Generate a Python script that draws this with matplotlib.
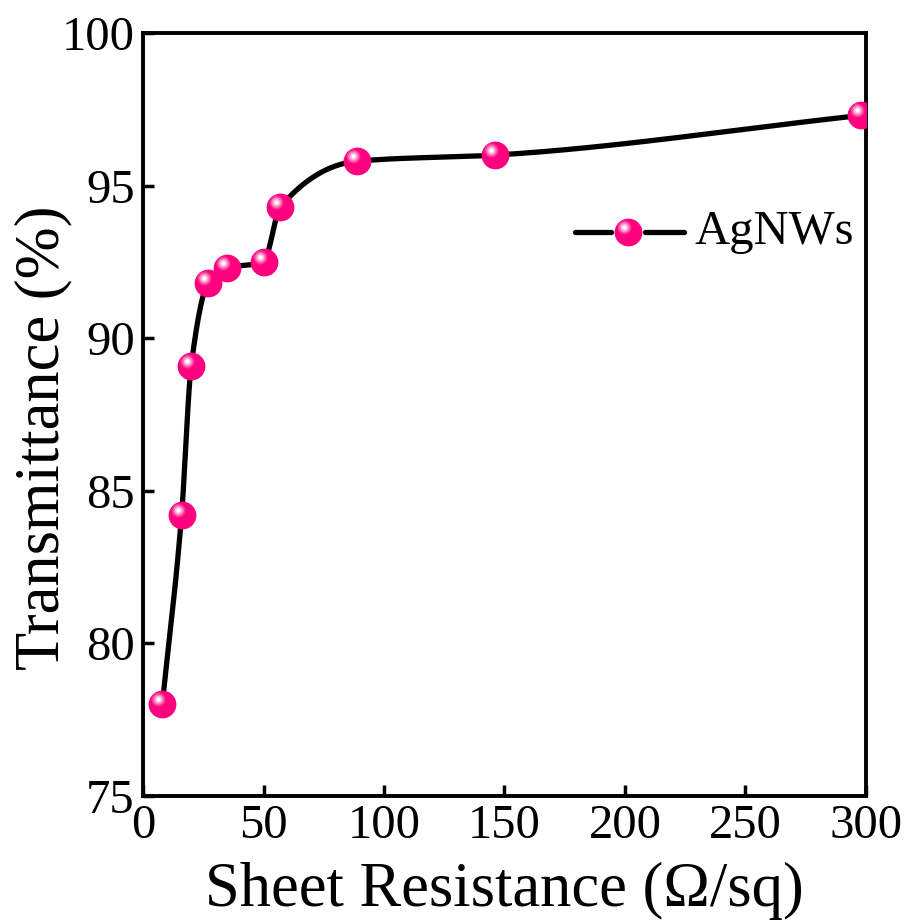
import numpy as np
import matplotlib
matplotlib.use('Agg')
import matplotlib.pyplot as plt
import matplotlib.transforms as mtransforms

# sheet resistance (ohm/sq) vs transmittance (%) of AgNW films
sheet_res = [8, 16, 20, 27, 35, 50, 57, 89, 146, 298]
transmit = [78.0, 84.2, 89.1, 91.8, 92.3, 92.5, 94.3, 95.8, 96.0, 97.3]
xticks = [0, 50, 100, 150, 200, 250, 300]
yticks = [75, 80, 85, 90, 95, 100]
series_name = 'AgNWs'

PINK = '#ff007f'


def pchip(x, y, xs):
    # monotone cubic hermite (Fritsch-Carlson), used only to draw the smooth line
    x = np.asarray(x, float)
    y = np.asarray(y, float)
    h = np.diff(x)
    d = np.diff(y) / h
    m = np.zeros_like(y)
    for k in range(1, len(x) - 1):
        if d[k - 1] * d[k] > 0:
            w1 = 2 * h[k] + h[k - 1]
            w2 = h[k] + 2 * h[k - 1]
            m[k] = (w1 + w2) / (w1 / d[k - 1] + w2 / d[k])
    m[0] = d[0]
    m[-1] = d[-1]
    idx = np.clip(np.searchsorted(x, xs) - 1, 0, len(x) - 2)
    t = (xs - x[idx]) / h[idx]
    h00 = 2 * t**3 - 3 * t**2 + 1
    h10 = t**3 - 2 * t**2 + t
    h01 = -2 * t**3 + 3 * t**2
    h11 = t**3 - t**2
    return h00 * y[idx] + h10 * h[idx] * m[idx] + h01 * y[idx + 1] + h11 * h[idx] * m[idx + 1]


def ball(ax, xv, yv, trans, shift, clip=True):
    # pink sphere with a glossy highlight up-left of the centre
    ax.plot(xv, yv, 'o', ms=20, mfc=PINK, mew=0, zorder=3, transform=trans,
            clip_on=clip)
    layers = [(10, '#ff3399'), (7.5, '#ff80bf'), (5, '#ffc2e0'), (2.8, 'white')]
    for ms, c in layers:
        ax.plot(xv, yv, 'o', ms=ms, mfc=c, mew=0, zorder=4,
                transform=trans + shift, clip_on=clip)


plt.rcParams['font.family'] = 'Liberation Serif'

fig = plt.figure(figsize=(9.08, 9.22), dpi=100)
ax = fig.add_axes([0.1575, 0.1367, 0.7962, 0.8275])

xs = np.linspace(sheet_res[0], sheet_res[-1], 600)
ax.plot(xs, pchip(sheet_res, transmit, xs), color='black', lw=3.8, zorder=2,
        solid_capstyle='round')

shift = mtransforms.ScaledTranslation(-4 / 100, 5 / 100, fig.dpi_scale_trans)
ball(ax, sheet_res, transmit, ax.transData, shift)

ax.set_xlim(0, 300)
ax.set_ylim(75, 100)
ax.set_xticks(xticks)
ax.set_yticks(yticks)
ax.tick_params(direction='in', length=8, width=2.5, labelsize=35, pad=6)
for s in ax.spines.values():
    s.set_linewidth(2.8)

ax.set_xlabel('Sheet Resistance (\u03a9/sq)', fontsize=45, labelpad=10)
ax.set_ylabel('Transmittance (%)', fontsize=45)
ax.yaxis.set_label_coords(-0.098, 0.469)

# legend entry drawn in axes coordinates: two line stubs with the ball between
ly = 0.739
for x0, x1 in [(0.5975, 0.6473), (0.694, 0.748)]:
    ax.plot([x0, x1], [ly, ly], color='black', lw=3.8, transform=ax.transAxes,
            zorder=2, solid_capstyle='round')
ball(ax, [0.6705], [ly], ax.transAxes, shift, clip=False)
ax.text(0.763, ly, series_name, transform=ax.transAxes, fontsize=35,
        va='center', ha='left')

fig.savefig('out.png', dpi=100)
